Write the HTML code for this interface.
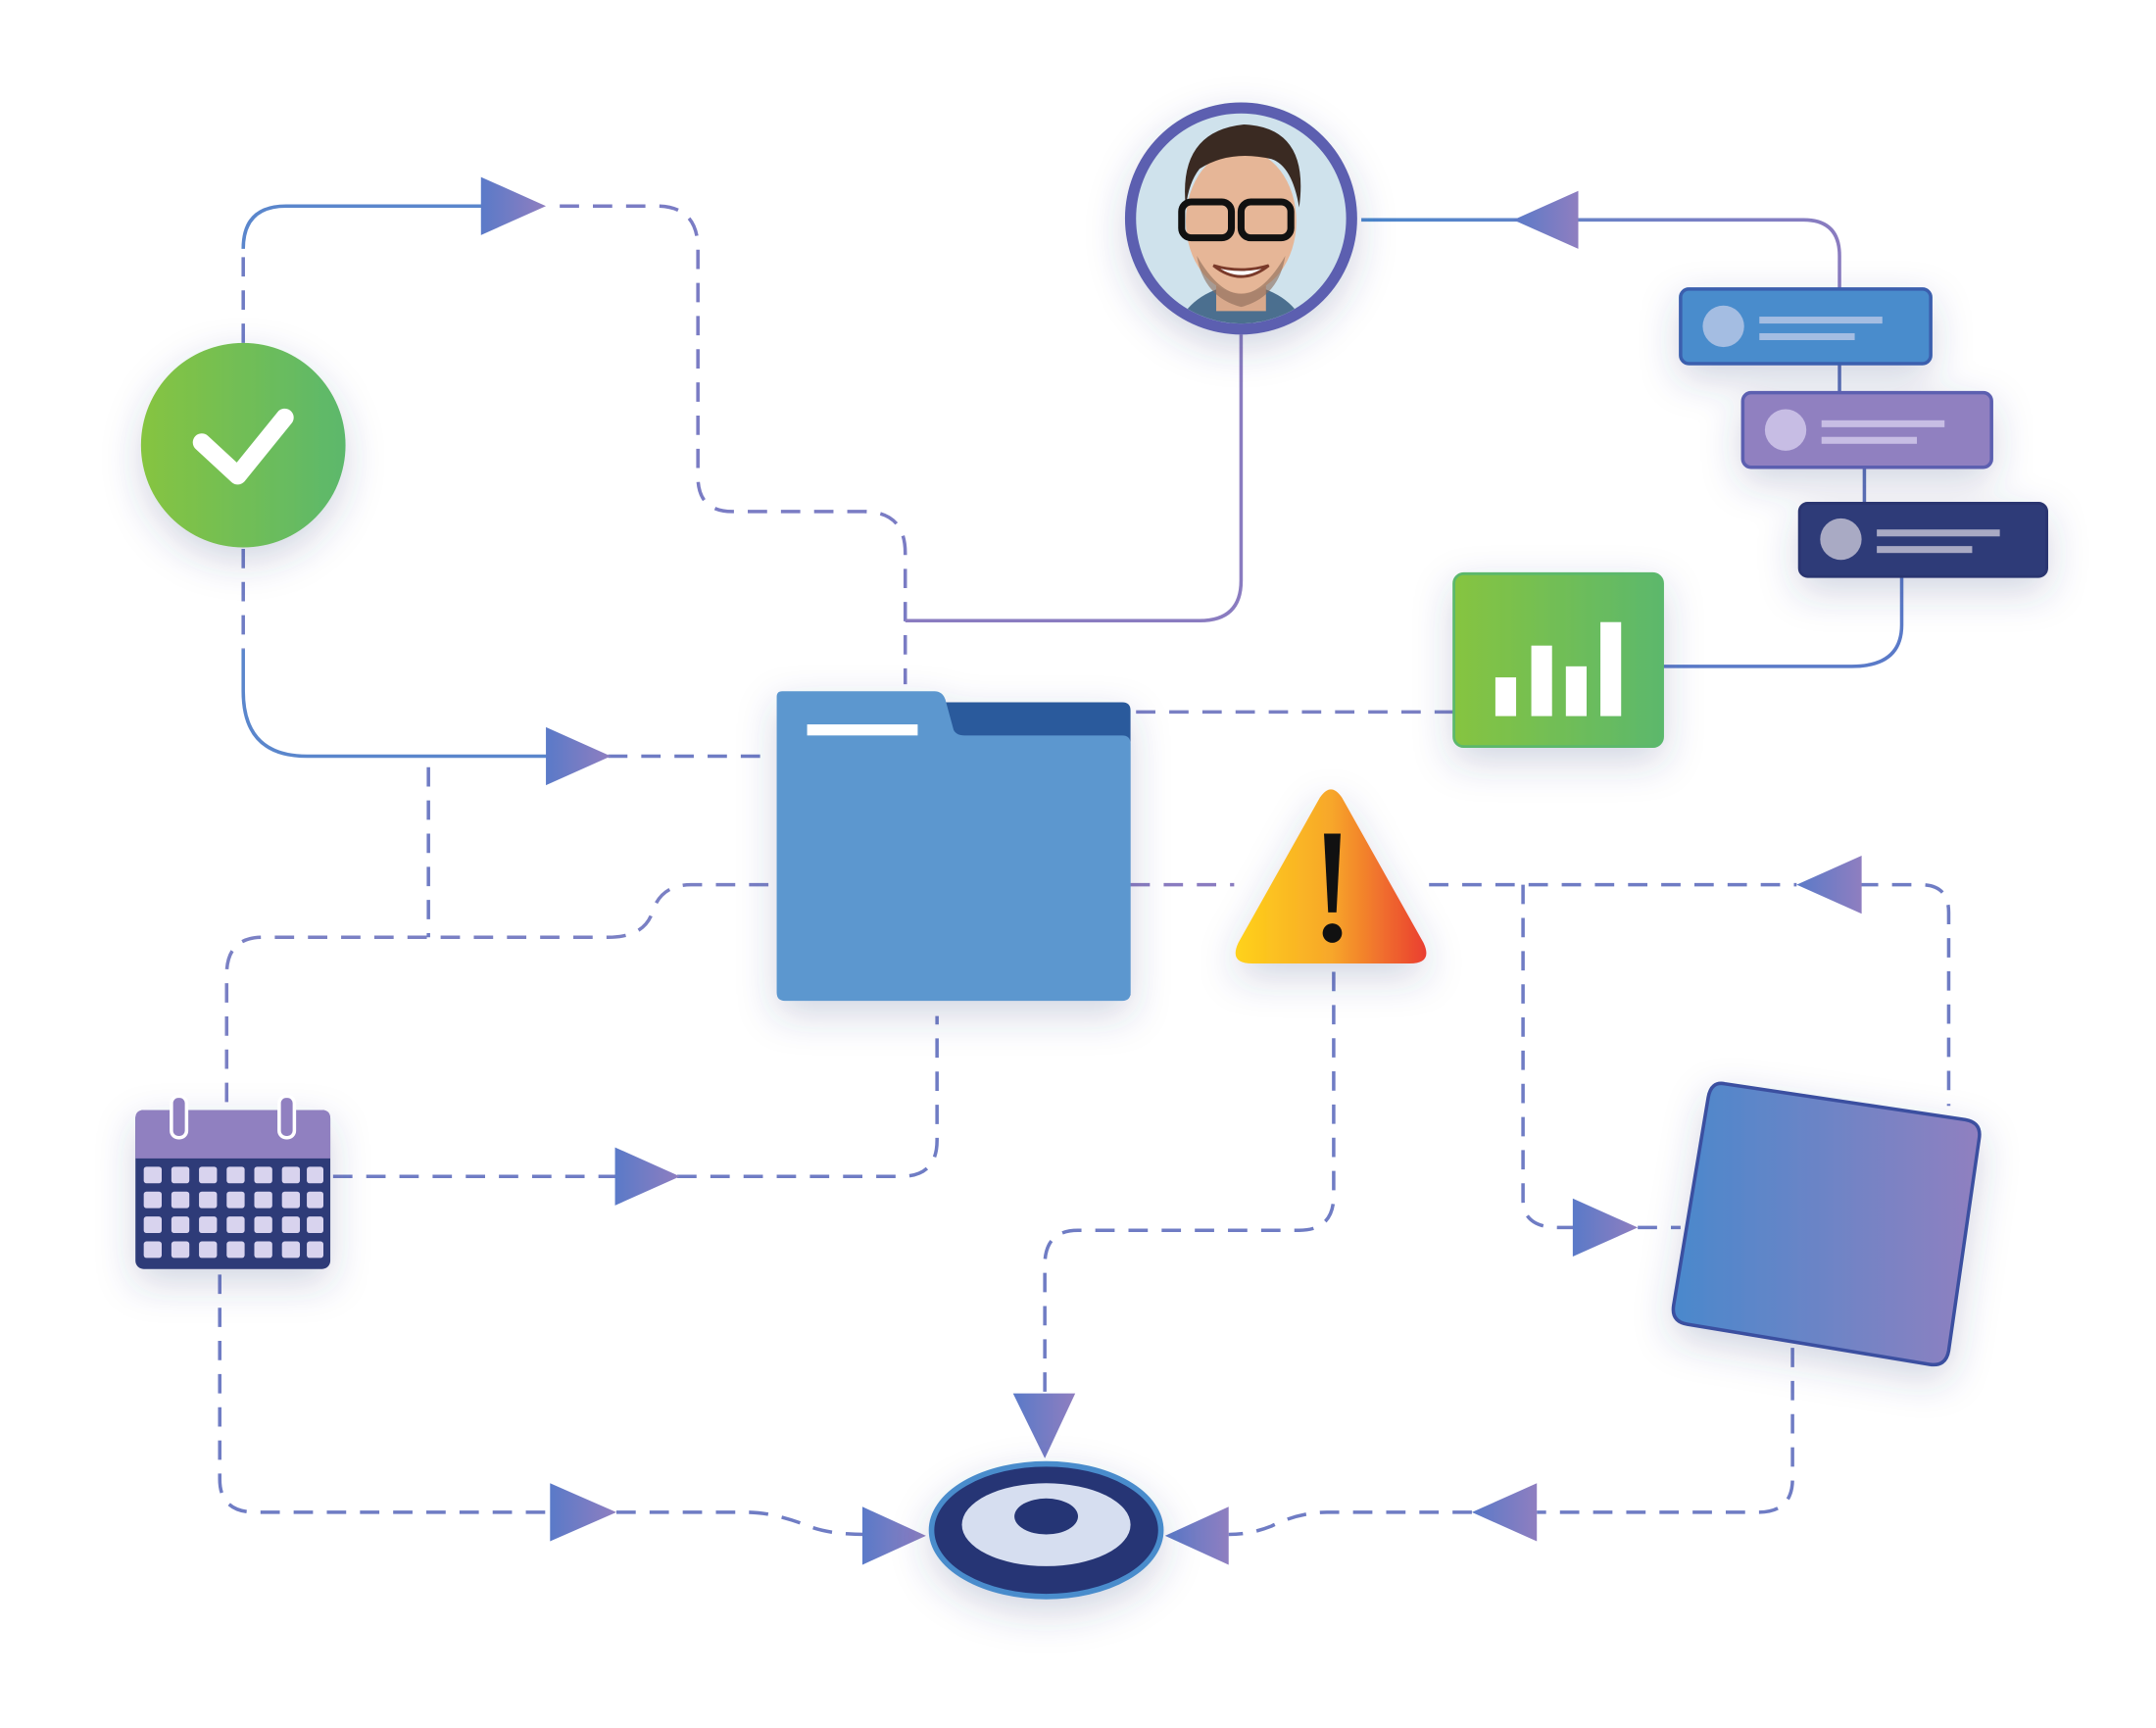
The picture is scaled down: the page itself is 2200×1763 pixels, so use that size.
<!DOCTYPE html>
<html><head><meta charset="utf-8"><style>html,body{margin:0;padding:0;background:#fff}svg{display:block}</style></head>
<body>
<svg width="2200" height="1763" viewBox="0 0 1560 1250" xmlns="http://www.w3.org/2000/svg">
<defs>
<filter id="sh" x="-50%" y="-50%" width="200%" height="200%"><feDropShadow dx="0" dy="10" stdDeviation="14" flood-color="#3a3f7a" flood-opacity="0.22"/></filter>
<linearGradient id="gl" x1="0" x2="1"><stop offset="0" stop-color="#4a86cc"/><stop offset="1" stop-color="#8a7cc0"/></linearGradient>
<linearGradient id="ga" x1="0" x2="1"><stop offset="0" stop-color="#5a7ac8"/><stop offset="1" stop-color="#8f7ec0"/></linearGradient>
<linearGradient id="gg" x1="0" x2="1"><stop offset="0" stop-color="#86c440"/><stop offset="1" stop-color="#5cb86c"/></linearGradient>
<linearGradient id="gw" x1="0" x2="1"><stop offset="0" stop-color="#ffd21a"/><stop offset="0.5" stop-color="#f7a72a"/><stop offset="1" stop-color="#ea3e30"/></linearGradient>
<linearGradient id="gs" x1="0" x2="1"><stop offset="0" stop-color="#4a88cc"/><stop offset="1" stop-color="#9080c0"/></linearGradient>
</defs>

<g fill="none" stroke="#6f7cc4" stroke-width="2.5">
<!-- check top to folder -->
<path d="M176 248 V180" stroke-dasharray="14 10"/>
<path d="M176 180 Q176 149 207 149 H350" stroke="#5a86cc"/>
<path d="M405 149 H475 Q505 149 505 180 V345 Q505 370 530 370 H625 Q655 370 655 400 V495" stroke-dasharray="14 10" stroke="#7a7cc4"/>
<!-- person down -->
<path d="M898 242 V420 Q898 449 868 449 H655" stroke="#8a7cc0"/>
<!-- cards -->
<path d="M1331 209 V185 Q1331 159 1305 159 H985" stroke="url(#gl)"/>
<path d="M1331 263 V284 M1349 338 V364" stroke="#5b70b8"/>
<path d="M1376 417 V452 Q1376 482 1340 482 H1203" stroke="#5a7ac8"/>
<!-- chart to folder -->
<path d="M1052 515 H818" stroke-dasharray="14 10" stroke="#7a80c4"/>
<!-- check bottom -->
<path d="M176 397 V470" stroke-dasharray="14 10"/>
<path d="M176 470 V500 Q176 547 222 547 H398" stroke="#5a86cc"/>
<path d="M440 547 H556" stroke-dasharray="14 10"/>
<path d="M310 555 V678" stroke-dasharray="14 10"/>
<!-- folder left to calendar -->
<path d="M556 640 H500 Q478 640 472 660 Q466 678 440 678 H190 Q164 678 164 705 V800" stroke-dasharray="14 10" stroke="#7a80c4"/>
<!-- calendar right to folder -->
<path d="M241 851 H448 M490 851 H652 Q678 851 678 825 V735" stroke-dasharray="14 10"/>
<!-- folder right / triangle right -->
<path d="M818 640 H893" stroke-dasharray="14 10" stroke="#8a7cc0"/>
<path d="M1034 640 H1300 M1345 640 H1390 Q1410 640 1410 660 V800" stroke-dasharray="14 10"/>
<path d="M1102 640 V868 Q1102 888 1128 888 H1140 M1185 888 H1216" stroke-dasharray="14 10"/>
<!-- warning down -->
<path d="M965 703 V865 Q965 890 940 890 H780 Q756 890 756 915 V1012" stroke-dasharray="14 10"/>
<!-- calendar bottom -->
<path d="M159 922 V1070 Q159 1094 185 1094 H400 M446 1094 H540 Q560 1094 585 1104 Q600 1110 626 1110" stroke-dasharray="14 10"/>
<!-- square bottom -->
<path d="M1297 975 V1070 Q1297 1094 1272 1094 H1112 M1065 1094 H960 Q940 1094 920 1104 Q905 1110 889 1110" stroke-dasharray="14 10"/>
</g>

<!-- arrows -->
<g fill="url(#ga)">
<polygon points="348,128 395,149 348,170"/>
<polygon points="1142,138 1095,159 1142,180"/>
<polygon points="395,526 442,547 395,568"/>
<polygon points="445,830 492,851 445,872"/>
<polygon points="1347,619 1300,640 1347,661"/>
<polygon points="1138,867 1185,888 1138,909"/>
<polygon points="733,1008 778,1008 756,1055"/>
<polygon points="398,1073 446,1094 398,1115"/>
<polygon points="624,1090 670,1111 624,1132"/>
<polygon points="1112,1073 1065,1094 1112,1115"/>
<polygon points="889,1090 843,1111 889,1132"/>
</g>

<!-- check circle -->
<g filter="url(#sh)"><circle cx="176" cy="322" r="74" fill="url(#gg)"/></g>
<polyline points="146,320 172,344 206,302" fill="none" stroke="#fff" stroke-width="13" stroke-linecap="round" stroke-linejoin="round"/>

<!-- person -->
<g filter="url(#sh)"><circle cx="898" cy="158" r="80" fill="#cfe2ec" stroke="#5b5fb0" stroke-width="8"/></g>
<clipPath id="pc"><circle cx="898" cy="158" r="76"/></clipPath>
<g clip-path="url(#pc)">
<path d="M850 240 Q860 210 898 205 Q936 210 946 240 Z" fill="#4b6f8f"/>
<rect x="880" y="195" width="36" height="30" fill="#d9a98c"/>
<ellipse cx="898" cy="160" rx="40" ry="52" fill="#e6b697"/>
<path d="M858 150 Q852 95 900 90 Q948 92 940 150 Q935 120 920 115 Q890 108 868 122 Q860 132 858 150Z" fill="#3a2a22"/>
<path d="M866 185 Q898 240 930 185 Q925 215 898 222 Q871 215 866 185Z" fill="#8a6a58" opacity="0.6"/>
<rect x="855" y="146" width="36" height="26" rx="7" fill="none" stroke="#111" stroke-width="5"/>
<rect x="898" y="146" width="36" height="26" rx="7" fill="none" stroke="#111" stroke-width="5"/>
<path d="M878 192 Q898 208 918 192 Q898 198 878 192Z" fill="#fff" stroke="#7a3a2a" stroke-width="2"/>
</g>

<!-- cards -->
<g filter="url(#sh)">
<rect x="1216" y="209" width="181" height="54" rx="6" fill="#4a8ccc" stroke="#3a5fae" stroke-width="2.5"/>
<rect x="1261" y="284" width="180" height="54" rx="6" fill="#9080c0" stroke="#5b5fb0" stroke-width="2.5"/>
<rect x="1302" y="364" width="179" height="53" rx="6" fill="#2e3a78" stroke="#2a3470" stroke-width="2"/>
</g>
<circle cx="1247" cy="236" r="15" fill="#a4bde2"/><rect x="1273" y="229" width="89" height="5" fill="#a4bde2"/><rect x="1273" y="241" width="69" height="5" fill="#a4bde2"/>
<circle cx="1292" cy="311" r="15" fill="#c7bde4"/><rect x="1318" y="304" width="89" height="5" fill="#c7bde4"/><rect x="1318" y="316" width="69" height="5" fill="#c7bde4"/>
<circle cx="1332" cy="390" r="15" fill="#a9aac4"/><rect x="1358" y="383" width="89" height="5" fill="#a9aac4"/><rect x="1358" y="395" width="69" height="5" fill="#a9aac4"/>

<!-- chart -->
<g filter="url(#sh)"><rect x="1052" y="415" width="151" height="125" rx="7" fill="url(#gg)" stroke="#5cb86c" stroke-width="2"/></g>
<g fill="#fff"><rect x="1082" y="490" width="15" height="28"/><rect x="1108" y="467" width="15" height="51"/><rect x="1133" y="482" width="15" height="36"/><rect x="1158" y="450" width="15" height="68"/></g>

<!-- folder -->
<g filter="url(#sh)">
<path d="M680 508 H812 Q818 508 818 514 V720 H680Z" fill="#2b5a9c"/>
<path d="M566 500 H676 Q682 500 684 506 L690 528 Q692 532 698 532 H812 Q818 532 818 538 V718 Q818 724 812 724 H568 Q562 724 562 718 V504 Q562 500 566 500Z" fill="#5b97cf"/>
</g>
<rect x="584" y="524" width="80" height="8" fill="#fff"/>

<!-- warning -->
<g filter="url(#sh)"><path d="M955 577 Q963 565 971 577 L1030 682 Q1037 697 1020 697 H906 Q889 697 896 682Z" fill="url(#gw)"/></g>
<path d="M958 603 H970 L967 660 H961Z" fill="#111"/><circle cx="964" cy="675" r="7" fill="#111"/>

<!-- calendar -->
<g filter="url(#sh)">
<rect x="98" y="803" width="141" height="115" rx="6" fill="#2e3a78"/>
<path d="M104 803 H233 Q239 803 239 809 V838 H98 V809 Q98 803 104 803Z" fill="#9080c0"/>
</g>
<rect x="124" y="793" width="11" height="30" rx="5" fill="#9080c0" stroke="#fff" stroke-width="2.5"/>
<rect x="202" y="793" width="11" height="30" rx="5" fill="#9080c0" stroke="#fff" stroke-width="2.5"/>
<g fill="#d8d3ee">
<rect x="104" y="844" width="13" height="12" rx="2"/><rect x="124" y="844" width="13" height="12" rx="2"/><rect x="144" y="844" width="13" height="12" rx="2"/><rect x="164" y="844" width="13" height="12" rx="2"/><rect x="184" y="844" width="13" height="12" rx="2"/><rect x="204" y="844" width="13" height="12" rx="2"/><rect x="222" y="844" width="12" height="12" rx="2"/>
<rect x="104" y="862" width="13" height="12" rx="2"/><rect x="124" y="862" width="13" height="12" rx="2"/><rect x="144" y="862" width="13" height="12" rx="2"/><rect x="164" y="862" width="13" height="12" rx="2"/><rect x="184" y="862" width="13" height="12" rx="2"/><rect x="204" y="862" width="13" height="12" rx="2"/><rect x="222" y="862" width="12" height="12" rx="2"/>
<rect x="104" y="880" width="13" height="12" rx="2"/><rect x="124" y="880" width="13" height="12" rx="2"/><rect x="144" y="880" width="13" height="12" rx="2"/><rect x="164" y="880" width="13" height="12" rx="2"/><rect x="184" y="880" width="13" height="12" rx="2"/><rect x="204" y="880" width="13" height="12" rx="2"/><rect x="222" y="880" width="12" height="12" rx="2"/>
<rect x="104" y="898" width="13" height="12" rx="2"/><rect x="124" y="898" width="13" height="12" rx="2"/><rect x="144" y="898" width="13" height="12" rx="2"/><rect x="164" y="898" width="13" height="12" rx="2"/><rect x="184" y="898" width="13" height="12" rx="2"/><rect x="204" y="898" width="13" height="12" rx="2"/><rect x="222" y="898" width="12" height="12" rx="2"/>
</g>

<!-- tilted square -->
<g filter="url(#sh)"><path d="M1248 784 L1422 810 Q1434 812 1432 824 L1410 977 Q1408 989 1396 987 L1221 958 Q1209 956 1211 944 L1236 794 Q1238 782 1248 784Z" fill="url(#gs)" stroke="#3a4fa0" stroke-width="2.5"/></g>

<!-- target -->
<g filter="url(#sh)"><ellipse cx="757" cy="1107" rx="83" ry="48" fill="#253575" stroke="#4a8ccc" stroke-width="4"/></g>
<ellipse cx="757" cy="1103" rx="61" ry="30" fill="#d6def0"/>
<ellipse cx="757" cy="1097" rx="23" ry="13" fill="#253575"/>
</svg>
</body></html>
